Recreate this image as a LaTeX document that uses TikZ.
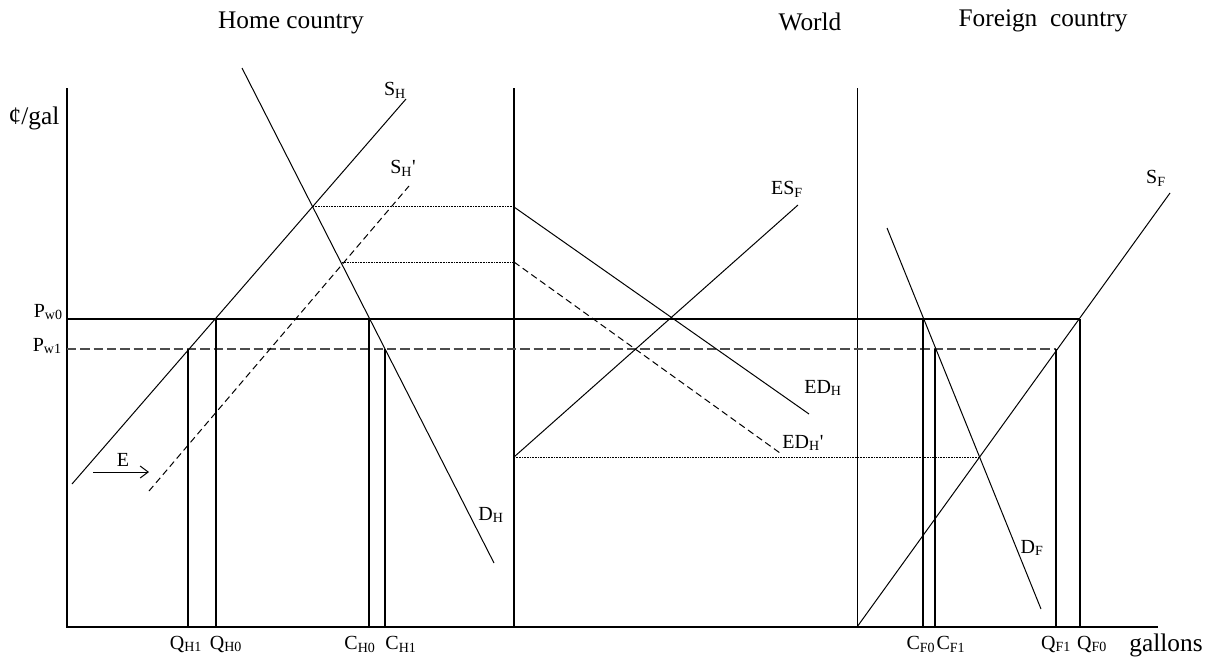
\documentclass[tikz,border=0pt]{standalone}
\usepackage{fontspec}
\setmainfont{Liberation Serif}
\usetikzlibrary{arrows.meta}
\begin{document}
\begin{tikzpicture}[x=0.75pt,y=-0.75pt,
  thk/.style={line width=1.6pt},
  thn/.style={line width=0.75pt},
  dsh/.style={line width=0.75pt,dash pattern=on 5pt off 3pt},
  pdsh/.style={line width=1.3pt,draw=black!70,dash pattern=on 7pt off 3pt},
  dot/.style={line width=0.5pt,dash pattern=on 0.6pt off 0.6pt},
  lbl/.style={inner sep=0pt,font=\fontsize{15}{18}\selectfont},
  big/.style={inner sep=0pt,font=\fontsize{19}{22}\selectfont}
]
\path[use as bounding box] (0,0) rectangle (1220,664);
% titles
\node[big] (t1) at (291,23) {Home country};
\node[big] (t2) at (810,22) {World};
\node[big] (t3) at (1043,21) {Foreign\ \ country};
% coordinates
\coordinate (o1) at (67,627);
\coordinate (a1top) at (67,88);
\coordinate (a2top) at (514,88);
\coordinate (a2bot) at (514,627);
\coordinate (a3top) at (857,88);
\coordinate (a3bot) at (857,627);
\coordinate (xend) at (1158,627);
% axes
\draw[thk] (a1top) -- (o1) -- (xend);
\draw[thk] (a2top) -- (a2bot);
\draw[thn] (a3top) -- (a3bot);
% price lines
\coordinate (pw0l) at (67,319);
\coordinate (pw0r) at (1080,319);
\coordinate (pw1l) at (67,349);
\coordinate (pw1r) at (1056,349);
\draw[thk] (pw0l) -- (pw0r);
\draw[pdsh] (pw1l) -- (pw1r);
% verticals
\coordinate (qh1t) at (188,349); \coordinate (qh1b) at (188,627);
\coordinate (qh0t) at (216,319); \coordinate (qh0b) at (216,627);
\coordinate (ch0t) at (369,319); \coordinate (ch0b) at (369,627);
\coordinate (ch1t) at (385,349); \coordinate (ch1b) at (385,627);
\coordinate (cf0t) at (923,319); \coordinate (cf0b) at (923,627);
\coordinate (cf1t) at (935,349); \coordinate (cf1b) at (935,627);
\coordinate (qf1t) at (1056,349); \coordinate (qf1b) at (1056,627);
\coordinate (qf0t) at (1080,319); \coordinate (qf0b) at (1080,627);
\foreach \v in {qh1,qh0,ch0,ch1,cf0,cf1,qf1,qf0} \draw[thk] (\v t) -- (\v b);
% dotted lines
\coordinate (d1l) at (313,206); \coordinate (d1r) at (514,206);
\coordinate (d2l) at (342,262); \coordinate (d2r) at (514,262);
\coordinate (d3l) at (514,457); \coordinate (d3r) at (979,457);
\draw[dot] (d1l) -- (d1r);
\draw[dot] (d2l) -- (d2r);
\draw[dot] (d3l) -- (d3r);
% home curves
\coordinate (sha) at (72,484); \coordinate (shb) at (406,99);
\coordinate (spa) at (149,491); \coordinate (spb) at (409,186);
\coordinate (dha) at (242,68); \coordinate (dhb) at (494,563);
\draw[thn] (sha) -- (shb);
\draw[dsh] (spa) -- (spb);
\draw[thn] (dha) -- (dhb);
% E arrow
\coordinate (ea) at (93,472); \coordinate (eb) at (149,472);
\draw[thn,-{Straight Barb[length=6pt,width=9pt]}] (ea) -- (eb);
% world curves
\coordinate (eda) at (514,207); \coordinate (edb) at (809,414);
\coordinate (epa) at (514,262); \coordinate (epb) at (780,453);
\coordinate (esa) at (514,457); \coordinate (esb) at (798,205);
\draw[thn] (eda) -- (edb);
\draw[dsh] (epa) -- (epb);
\draw[thn] (esa) -- (esb);
% foreign curves
\coordinate (sfb) at (1170,193);
\coordinate (dfa) at (887,228); \coordinate (dfb) at (1041,609);
\draw[thn] (a3bot) -- (sfb);
\draw[thn] (dfa) -- (dfb);
% labels
\node[big] (yl) at (34,118) {¢/gal};
\node[lbl,anchor=east] (lpw0) at (63,312) {P\textsubscript{w0}};
\node[lbl,anchor=east] (lpw1) at (62,346) {P\textsubscript{w1}};
\node[lbl] (lsh) at (395,90) {S\textsubscript{H}};
\node[lbl] (lsp) at (403,168) {S\textsubscript{H}\textquotesingle};
\node[lbl] (le) at (123,460) {E};
\node[lbl] (ldh) at (491,515) {D\textsubscript{H}};
\node[lbl] (lesf) at (787,189) {ES\textsubscript{F}};
\node[lbl] (ledh) at (823,388) {ED\textsubscript{H}};
\node[lbl] (ledp) at (803,443) {ED\textsubscript{H}\textquotesingle};
\node[lbl] (lsf) at (1156,178) {S\textsubscript{F}};
\node[lbl] (ldf) at (1032,548) {D\textsubscript{F}};
\node[lbl] (lqh1) at (186,644) {Q\textsubscript{H1}};
\node[lbl] (lqh0) at (226,644) {Q\textsubscript{H0}};
\node[lbl] (lch0) at (360,644) {C\textsubscript{H0}};
\node[lbl] (lch1) at (401,644) {C\textsubscript{H1}};
\node[lbl] (lcf0) at (921,644) {C\textsubscript{F0}};
\node[lbl] (lcf1) at (951,644) {C\textsubscript{F1}};
\node[lbl] (lqf1) at (1056,644) {Q\textsubscript{F1}};
\node[lbl] (lqf0) at (1092,644) {Q\textsubscript{F0}};
\node[big] (lgal) at (1166,645) {gallons};
\end{tikzpicture}
\end{document}
